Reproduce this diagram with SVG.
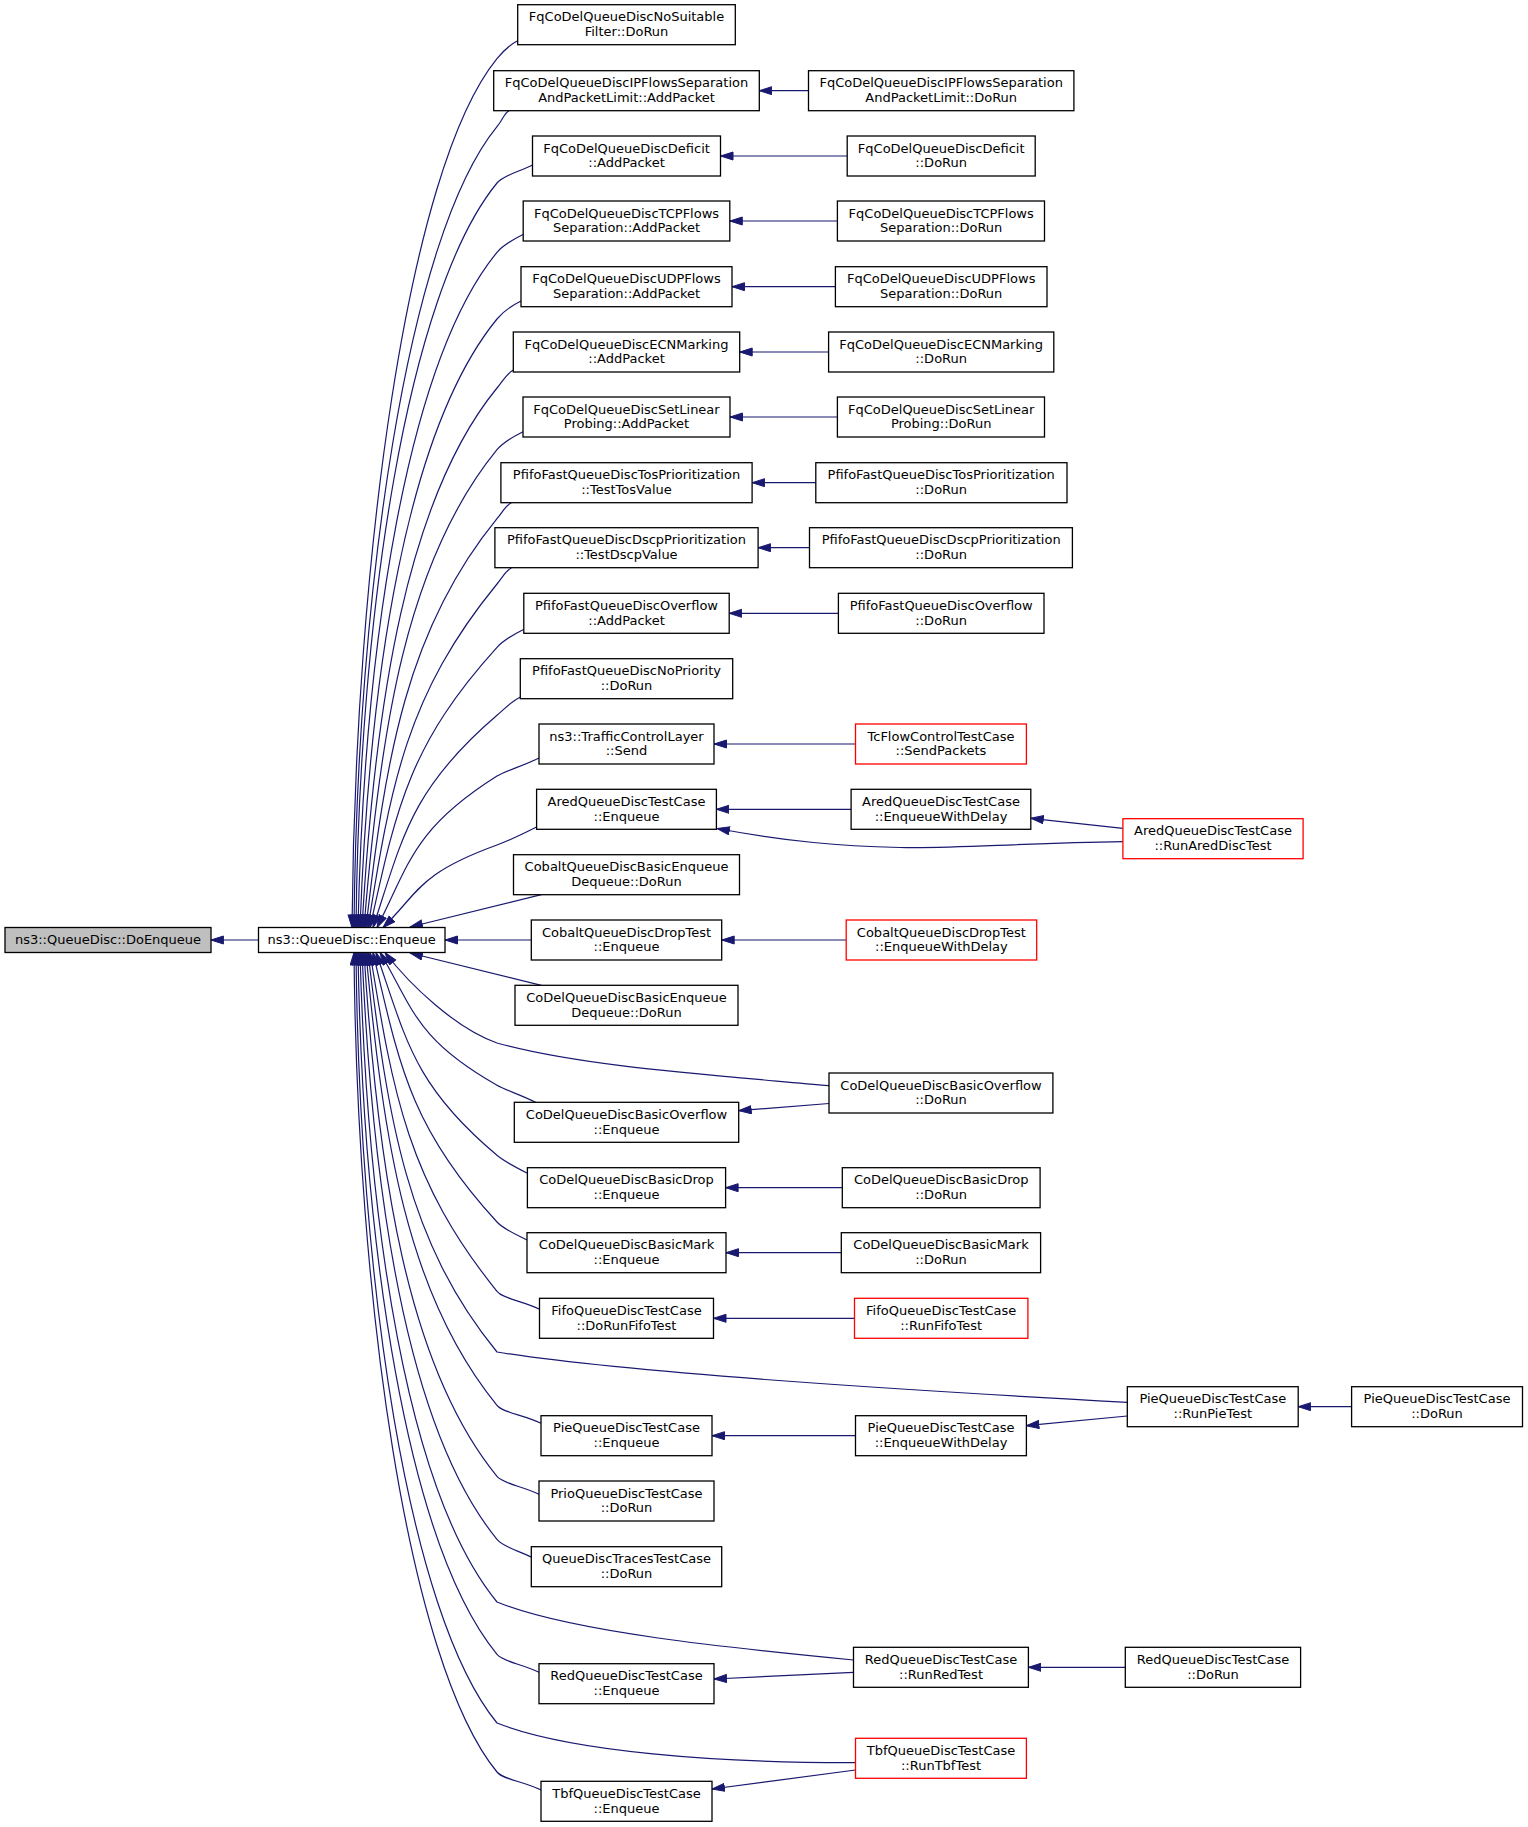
<svg xmlns="http://www.w3.org/2000/svg" width="1528" height="1827" viewBox="0 0 1528 1827">
<defs>
<marker id="ah" markerUnits="userSpaceOnUse" markerWidth="14" markerHeight="10" refX="13" refY="4.5" orient="auto" viewBox="0 0 14 10"><path d="M0.5,0.5 L13,4.5 L0.5,8.5 z" fill="#191970" stroke="#191970" stroke-width="1"/></marker>
<style>
.n rect{fill:#fff;stroke:#000;stroke-width:1.3}
.r rect{stroke:#ff0000}
.g rect{fill:#bfbfbf}
text{font-family:"DejaVu Sans","Liberation Sans",sans-serif;font-size:13px;text-anchor:middle;fill:#000}
#edges path{fill:none;stroke:#191970;stroke-width:1.2;marker-end:url(#ah)}
</style>
</defs>
<rect width="1528" height="1827" fill="#fff"/>
<g id="edges">
<path d="M258.5,940 L210.9,940"/>
<path d="M517.7,40.7 C509.4,44.8 503.3,51 497,58.7 C407,168.7 355,562.6 352,927.5"/>
<path d="M509,110.7 C504.2,113.1 503.3,119 497,126.7 C407,236.7 357,591.2 354,927.5"/>
<path d="M532.7,165 C518.4,172.1 503.3,175.3 497,183 C407,293 359,614.8 356,927.5"/>
<path d="M523.5,234.3 C512.9,239.6 503.3,244.6 497,252.3 C407,362.3 364.2,643.9 358,927.5"/>
<path d="M521,301 C511.4,305.8 503.3,311.3 497,319 C407,429 369.6,671.9 360,927.5"/>
<path d="M513.5,370 C506.9,373.3 503.3,380.3 497,388 C407,498 375,700.9 362,927.5"/>
<path d="M523,431.7 C512.6,436.9 503.3,442 497,449.7 C407,559.7 380.1,726.8 364,927.5"/>
<path d="M511.4,502.7 C505.6,505.6 503.3,511 497,518.7 C407,628.7 385.6,755.8 366,927.5"/>
<path d="M511.4,568 C505.6,570.9 503.3,576.3 497,584 C407,694 390.8,783.2 368,927.5"/>
<path d="M524,629.3 C513.2,634.7 503.7,639.9 497,647.3 C408.1,745.4 396,809.8 370,927.5"/>
<path d="M520,697.3 C510.8,701.9 504.6,708.8 497,715.3 C410.2,789.6 402.4,838.4 373,927.5"/>
<path d="M539,758 C522.2,766.4 505.5,770.7 497,776 C413,829 409.4,863.9 377,927.5"/>
<path d="M536.6,827 C520.8,834.9 506.4,841.6 497,845 C417.2,873.9 418.9,892.8 383,927.5"/>
<path d="M541.4,894.7 L410,927"/>
<path d="M531.3,940 L445,940"/>
<path d="M541.4,985.3 L410,953"/>
<path d="M829,1085.7 C700,1074 580,1066 497,1043 C455,1028 410,985 385,952.5"/>
<path d="M535.6,1102.3 C520.2,1094.6 505.7,1090.2 497,1085.3 C415.1,1038.8 413.4,1008.3 380,952.5"/>
<path d="M527.4,1173.3 C515.2,1167.2 504.7,1161.7 497,1155.3 C412.3,1084.3 405.9,1037.7 376,952.5"/>
<path d="M527,1240 C515,1234 503.8,1229.4 497,1222 C410.2,1127.7 399.5,1065.7 373,952.5"/>
<path d="M539.5,1309.3 C522.5,1300.8 503.3,1299.1 497,1291.3 C408.1,1181.3 393.1,1094.8 370,952.5"/>
<path d="M1127.3,1402.3 C900,1390 620,1372 497,1352 C407,1242 388,1120.3 368,952.5"/>
<path d="M541,1423.3 C523.4,1414.5 503.3,1413 497,1405.3 C407,1295.3 383.4,1142.7 366,952.5"/>
<path d="M539,1494.3 C522.2,1485.9 503.3,1484 497,1476.3 C407,1366.3 377.8,1172.5 364,952.5"/>
<path d="M531.7,1557.3 C517.8,1550.4 503.3,1547 497,1539.3 C407,1429.3 372.7,1199 362,952.5"/>
<path d="M853.5,1660 C730,1648 570,1632 497,1602 C407,1492 367.5,1225.3 360,952.5"/>
<path d="M539,1672.3 C522.2,1663.9 503.3,1662 497,1654.3 C407,1544.3 362.9,1247.3 358,952.5"/>
<path d="M855.5,1762.7 C720,1763 570,1752 497,1723 C407,1613 359,1276.1 356,952.5"/>
<path d="M541,1790 C523.4,1781.2 503.3,1779.7 497,1772 C407,1662 357,1296.7 354,952.5"/>
<path d="M808.5,90.7 L759.3,90.7"/>
<path d="M847.2,156 L720.5,156"/>
<path d="M837.4,221 L729.8,221"/>
<path d="M835.4,286.7 L732,286.7"/>
<path d="M828.6,352 L739.7,352"/>
<path d="M837.4,417 L730,417"/>
<path d="M815.8,482.7 L752.1,482.7"/>
<path d="M809.5,547.7 L758.1,547.7"/>
<path d="M838.4,613.3 L729.2,613.3"/>
<path d="M855.5,744 L714,744"/>
<path d="M851.1,809.3 L716.4,809.3"/>
<path d="M1122.9,828.3 L1030.8,818.3"/>
<path d="M1122.9,841.7 C1020,843 950,849 900,847.5 C840,846 790,842 717,828.5"/>
<path d="M846.2,940 L721.7,940"/>
<path d="M829,1103.5 L738.7,1110.7"/>
<path d="M842.3,1187.7 L725.6,1187.7"/>
<path d="M841.3,1252.7 L726,1252.7"/>
<path d="M854.5,1318.3 L713.5,1318.3"/>
<path d="M855.5,1435.7 L712,1435.7"/>
<path d="M1127.3,1416 L1026.4,1425.7"/>
<path d="M1351.6,1406.7 L1298.2,1406.7"/>
<path d="M1125.3,1667.3 L1028.4,1667.3"/>
<path d="M853.5,1672.3 L714,1679"/>
<path d="M855.5,1770 L712,1789"/>
</g>
<g id="n_doenqueue" class="n g"><rect x="5" y="927.5" width="206" height="25"/><text x="108" y="943.8">ns3::QueueDisc::DoEnqueue</text></g>
<g id="n_enqueue" class="n"><rect x="258.5" y="927.5" width="186.5" height="25"/><text x="351.7" y="943.8">ns3::QueueDisc::Enqueue</text></g>
<g id="n0" class="n"><rect x="517.7" y="4.7" width="217.6" height="40"/><text x="626.5" y="21.3">FqCoDelQueueDiscNoSuitable</text><text x="626.5" y="36">Filter::DoRun</text></g>
<g id="n1" class="n"><rect x="493.7" y="70.7" width="265.6" height="40"/><text x="626.5" y="87.3">FqCoDelQueueDiscIPFlowsSeparation</text><text x="626.5" y="102">AndPacketLimit::AddPacket</text></g>
<g id="n2" class="n"><rect x="532.5" y="136" width="188" height="40"/><text x="626.5" y="152.6">FqCoDelQueueDiscDeficit</text><text x="626.5" y="167.3">::AddPacket</text></g>
<g id="n3" class="n"><rect x="523.2" y="201" width="206.6" height="40"/><text x="626.5" y="217.6">FqCoDelQueueDiscTCPFlows</text><text x="626.5" y="232.3">Separation::AddPacket</text></g>
<g id="n4" class="n"><rect x="521" y="266.7" width="211" height="40"/><text x="626.5" y="283.3">FqCoDelQueueDiscUDPFlows</text><text x="626.5" y="298">Separation::AddPacket</text></g>
<g id="n5" class="n"><rect x="513.3" y="332" width="226.4" height="40"/><text x="626.5" y="348.6">FqCoDelQueueDiscECNMarking</text><text x="626.5" y="363.3">::AddPacket</text></g>
<g id="n6" class="n"><rect x="523" y="397" width="207" height="40"/><text x="626.5" y="413.6">FqCoDelQueueDiscSetLinear</text><text x="626.5" y="428.3">Probing::AddPacket</text></g>
<g id="n7" class="n"><rect x="500.9" y="462.7" width="251.2" height="40"/><text x="626.5" y="479.3">PfifoFastQueueDiscTosPrioritization</text><text x="626.5" y="494">::TestTosValue</text></g>
<g id="n8" class="n"><rect x="494.9" y="527.7" width="263.2" height="40"/><text x="626.5" y="544.3">PfifoFastQueueDiscDscpPrioritization</text><text x="626.5" y="559">::TestDscpValue</text></g>
<g id="n9" class="n"><rect x="523.8" y="593.3" width="205.4" height="40"/><text x="626.5" y="609.9">PfifoFastQueueDiscOverflow</text><text x="626.5" y="624.6">::AddPacket</text></g>
<g id="n10" class="n"><rect x="520.3" y="658.7" width="212.4" height="40"/><text x="626.5" y="675.3">PfifoFastQueueDiscNoPriority</text><text x="626.5" y="690">::DoRun</text></g>
<g id="n11" class="n"><rect x="539" y="724" width="175" height="40"/><text x="626.5" y="740.6">ns3::TrafficControlLayer</text><text x="626.5" y="755.3">::Send</text></g>
<g id="n12" class="n"><rect x="536.6" y="789.3" width="179.8" height="40"/><text x="626.5" y="805.9">AredQueueDiscTestCase</text><text x="626.5" y="820.6">::Enqueue</text></g>
<g id="n13" class="n"><rect x="513.5" y="854.7" width="226" height="40"/><text x="626.5" y="871.3">CobaltQueueDiscBasicEnqueue</text><text x="626.5" y="886">Dequeue::DoRun</text></g>
<g id="n14" class="n"><rect x="531.3" y="920" width="190.4" height="40"/><text x="626.5" y="936.6">CobaltQueueDiscDropTest</text><text x="626.5" y="951.3">::Enqueue</text></g>
<g id="n15" class="n"><rect x="515" y="985.3" width="223" height="40"/><text x="626.5" y="1001.9">CoDelQueueDiscBasicEnqueue</text><text x="626.5" y="1016.6">Dequeue::DoRun</text></g>
<g id="n16" class="n"><rect x="514.3" y="1102.3" width="224.4" height="40"/><text x="626.5" y="1118.9">CoDelQueueDiscBasicOverflow</text><text x="626.5" y="1133.6">::Enqueue</text></g>
<g id="n17" class="n"><rect x="527.4" y="1167.7" width="198.2" height="40"/><text x="626.5" y="1184.3">CoDelQueueDiscBasicDrop</text><text x="626.5" y="1199">::Enqueue</text></g>
<g id="n18" class="n"><rect x="527" y="1232.7" width="199" height="40"/><text x="626.5" y="1249.3">CoDelQueueDiscBasicMark</text><text x="626.5" y="1264">::Enqueue</text></g>
<g id="n19" class="n"><rect x="539.5" y="1298.3" width="174" height="40"/><text x="626.5" y="1314.9">FifoQueueDiscTestCase</text><text x="626.5" y="1329.6">::DoRunFifoTest</text></g>
<g id="n20" class="n"><rect x="541" y="1415.7" width="171" height="40"/><text x="626.5" y="1432.3">PieQueueDiscTestCase</text><text x="626.5" y="1447">::Enqueue</text></g>
<g id="n21" class="n"><rect x="539" y="1481" width="175" height="40"/><text x="626.5" y="1497.6">PrioQueueDiscTestCase</text><text x="626.5" y="1512.3">::DoRun</text></g>
<g id="n22" class="n"><rect x="531.3" y="1546.7" width="190.4" height="40"/><text x="626.5" y="1563.3">QueueDiscTracesTestCase</text><text x="626.5" y="1578">::DoRun</text></g>
<g id="n23" class="n"><rect x="539" y="1663.7" width="175" height="40"/><text x="626.5" y="1680.3">RedQueueDiscTestCase</text><text x="626.5" y="1695">::Enqueue</text></g>
<g id="n24" class="n"><rect x="541" y="1781.3" width="171" height="40"/><text x="626.5" y="1797.9">TbfQueueDiscTestCase</text><text x="626.5" y="1812.6">::Enqueue</text></g>
<g id="c1" class="n"><rect x="808.5" y="70.7" width="265.4" height="40"/><text x="941.2" y="87.3">FqCoDelQueueDiscIPFlowsSeparation</text><text x="941.2" y="102">AndPacketLimit::DoRun</text></g>
<g id="c2" class="n"><rect x="847.2" y="136" width="188" height="40"/><text x="941.2" y="152.6">FqCoDelQueueDiscDeficit</text><text x="941.2" y="167.3">::DoRun</text></g>
<g id="c3" class="n"><rect x="837.4" y="201" width="207.1" height="40"/><text x="941.2" y="217.6">FqCoDelQueueDiscTCPFlows</text><text x="941.2" y="232.3">Separation::DoRun</text></g>
<g id="c4" class="n"><rect x="835.4" y="266.7" width="211.6" height="40"/><text x="941.2" y="283.3">FqCoDelQueueDiscUDPFlows</text><text x="941.2" y="298">Separation::DoRun</text></g>
<g id="c5" class="n"><rect x="828.6" y="332" width="225.2" height="40"/><text x="941.2" y="348.6">FqCoDelQueueDiscECNMarking</text><text x="941.2" y="363.3">::DoRun</text></g>
<g id="c6" class="n"><rect x="837.4" y="397" width="207.1" height="40"/><text x="941.2" y="413.6">FqCoDelQueueDiscSetLinear</text><text x="941.2" y="428.3">Probing::DoRun</text></g>
<g id="c7" class="n"><rect x="815.8" y="462.7" width="251.2" height="40"/><text x="941.2" y="479.3">PfifoFastQueueDiscTosPrioritization</text><text x="941.2" y="494">::DoRun</text></g>
<g id="c8" class="n"><rect x="809.5" y="527.7" width="262.9" height="40"/><text x="941.2" y="544.3">PfifoFastQueueDiscDscpPrioritization</text><text x="941.2" y="559">::DoRun</text></g>
<g id="c9" class="n"><rect x="838.4" y="593.3" width="205.6" height="40"/><text x="941.2" y="609.9">PfifoFastQueueDiscOverflow</text><text x="941.2" y="624.6">::DoRun</text></g>
<g id="c11" class="n r"><rect x="855.5" y="724" width="170.9" height="40"/><text x="941" y="740.6">TcFlowControlTestCase</text><text x="941" y="755.3">::SendPackets</text></g>
<g id="c12" class="n"><rect x="851.1" y="789.3" width="179.7" height="40"/><text x="941" y="805.9">AredQueueDiscTestCase</text><text x="941" y="820.6">::EnqueueWithDelay</text></g>
<g id="c14" class="n r"><rect x="846.2" y="920" width="190.5" height="40"/><text x="941.4" y="936.6">CobaltQueueDiscDropTest</text><text x="941.4" y="951.3">::EnqueueWithDelay</text></g>
<g id="c16" class="n"><rect x="829" y="1073" width="223.9" height="40"/><text x="941" y="1089.6">CoDelQueueDiscBasicOverflow</text><text x="941" y="1104.3">::DoRun</text></g>
<g id="c17" class="n"><rect x="842.3" y="1167.7" width="197.8" height="40"/><text x="941.2" y="1184.3">CoDelQueueDiscBasicDrop</text><text x="941.2" y="1199">::DoRun</text></g>
<g id="c18" class="n"><rect x="841.3" y="1232.7" width="199.3" height="40"/><text x="941" y="1249.3">CoDelQueueDiscBasicMark</text><text x="941" y="1264">::DoRun</text></g>
<g id="c19" class="n r"><rect x="854.5" y="1298.3" width="173.4" height="40"/><text x="941.2" y="1314.9">FifoQueueDiscTestCase</text><text x="941.2" y="1329.6">::RunFifoTest</text></g>
<g id="c20" class="n"><rect x="855.5" y="1415.7" width="170.9" height="40"/><text x="941" y="1432.3">PieQueueDiscTestCase</text><text x="941" y="1447">::EnqueueWithDelay</text></g>
<g id="c23" class="n"><rect x="853.5" y="1647.3" width="174.9" height="40"/><text x="941" y="1663.9">RedQueueDiscTestCase</text><text x="941" y="1678.6">::RunRedTest</text></g>
<g id="c24" class="n r"><rect x="855.5" y="1738.3" width="170.9" height="40"/><text x="941" y="1754.9">TbfQueueDiscTestCase</text><text x="941" y="1769.6">::RunTbfTest</text></g>
<g id="d1" class="n r"><rect x="1122.9" y="818.7" width="180.2" height="40"/><text x="1213" y="835.3">AredQueueDiscTestCase</text><text x="1213" y="850">::RunAredDiscTest</text></g>
<g id="d2" class="n"><rect x="1127.3" y="1386.7" width="170.9" height="40"/><text x="1212.8" y="1403.3">PieQueueDiscTestCase</text><text x="1212.8" y="1418">::RunPieTest</text></g>
<g id="d3" class="n"><rect x="1125.3" y="1647.3" width="175.3" height="40"/><text x="1213" y="1663.9">RedQueueDiscTestCase</text><text x="1213" y="1678.6">::DoRun</text></g>
<g id="e1" class="n"><rect x="1351.6" y="1386.7" width="170.9" height="40"/><text x="1437" y="1403.3">PieQueueDiscTestCase</text><text x="1437" y="1418">::DoRun</text></g>
</svg>
